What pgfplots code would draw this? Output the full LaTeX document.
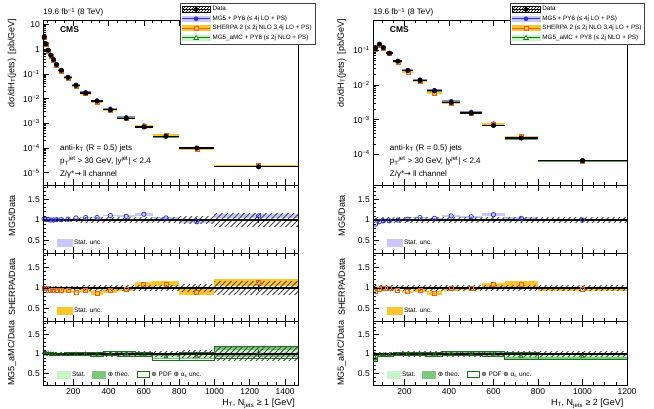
\documentclass[border=0pt]{standalone}
\usepackage{fontspec}
\setmainfont{Liberation Sans}
\newfontfamily\dejavu{DejaVu Sans}
\usepackage{pgfplots}
\pgfplotsset{compat=1.18}
\usepackage{pgfplotstable}
\usetikzlibrary{patterns}

\definecolor{mgcol}{RGB}{50,50,220}
\definecolor{mgband}{RGB}{200,200,255}
\definecolor{shcol}{RGB}{235,95,35}
\definecolor{shband}{RGB}{252,196,45}
\definecolor{amccol}{RGB}{25,115,25}
\definecolor{amcstat}{RGB}{200,245,200}
\definecolor{amctheo}{RGB}{125,200,125}
\definecolor{hatchcol}{RGB}{70,70,70}

% wide diagonal hatch for the data uncertainty
\pgfdeclarepatternformonly{hatchwide}{\pgfqpoint{-1pt}{-1pt}}{\pgfqpoint{6.5pt}{6.5pt}}{\pgfqpoint{5.5pt}{5.5pt}}{%
  \pgfsetlinewidth{0.75pt}%
  \pgfpathmoveto{\pgfqpoint{0pt}{0pt}}%
  \pgfpathlineto{\pgfqpoint{5.6pt}{5.6pt}}%
  \pgfusepath{stroke}}
\pgfdeclareplotmark{nomark}{}

% N_jets >= 1 : bin edges, centre, half width, dsigma/dHT (pb/GeV),
% MC/data ratios with their uncertainties, data stat. and total unc.
\pgfplotstableread{
lo hi c hw data mg mge sh she amc amcs amct amcp de dt
30 40 35 5 3.05 1.03 0.006 1.00 0.02 1.04 0.006 0.02 0.03 0.004 0.03
40 50 45 5 1.64 1.02 0.006 0.98 0.02 1.03 0.006 0.02 0.03 0.004 0.03
50 65 57.5 7.5 0.90 1.01 0.006 0.95 0.02 1.01 0.006 0.02 0.03 0.004 0.03
65 80 72.5 7.5 0.565 1.00 0.006 0.94 0.02 1.00 0.006 0.02 0.03 0.004 0.03
80 95 87.5 7.5 0.378 1.00 0.006 0.95 0.02 0.99 0.006 0.02 0.03 0.004 0.03
95 115 105 10 0.236 1.01 0.007 0.94 0.02 0.99 0.007 0.02 0.035 0.005 0.035
115 150 132.5 17.5 0.139 1.01 0.007 0.94 0.03 0.99 0.007 0.025 0.035 0.005 0.035
150 190 170 20 0.072 1.02 0.008 0.94 0.03 0.99 0.008 0.025 0.04 0.006 0.04
190 240 215 25 0.034 1.05 0.01 0.90 0.03 1.00 0.01 0.03 0.04 0.008 0.045
240 300 270 30 0.0168 1.06 0.012 0.94 0.04 1.00 0.012 0.03 0.045 0.01 0.05
300 370 335 35 0.0079 1.06 0.015 0.88 0.04 0.99 0.015 0.035 0.05 0.012 0.05
370 450 410 40 0.0035 1.11 0.02 0.94 0.05 1.02 0.02 0.04 0.055 0.015 0.06
450 550 500 50 0.00161 1.09 0.025 0.97 0.05 1.00 0.02 0.04 0.055 0.02 0.06
550 650 600 50 0.00071 1.14 0.03 1.08 0.06 0.99 0.025 0.05 0.06 0.025 0.065
650 800 725 75 0.0003 1.05 0.035 1.10 0.06 0.93 0.03 0.07 0.09 0.03 0.07
800 1000 900 100 0.0001 0.96 0.04 0.90 0.07 0.94 0.035 0.08 0.10 0.05 0.08
1000 1500 1250 250 0.0000174 1.10 0.05 1.13 0.09 1.04 0.05 0.13 0.16 0.08 0.16
1500 nan nan 0 0.0000174 1.10 0.05 1.13 0.09 1.04 0.05 0.13 0.16 0.08 0.16
}\Ltab

% N_jets >= 2
\pgfplotstableread{
lo hi c hw data mg mge sh she amc amcs amct amcp de dt
60 80 70 10 0.12 0.90 0.01 0.91 0.03 0.88 0.01 0.05 0.08 0.005 0.05
80 95 87.5 7.5 0.151 0.96 0.008 0.96 0.02 0.97 0.008 0.03 0.04 0.004 0.05
95 115 105 10 0.12 0.98 0.008 0.98 0.02 0.98 0.008 0.03 0.04 0.004 0.05
115 150 132.5 17.5 0.083 0.98 0.008 0.98 0.02 0.98 0.008 0.03 0.04 0.005 0.05
150 190 170 20 0.0489 1.00 0.008 0.94 0.02 0.99 0.008 0.03 0.04 0.005 0.05
190 240 215 25 0.0262 1.02 0.01 0.91 0.03 1.00 0.01 0.035 0.045 0.006 0.055
240 300 270 30 0.0135 1.06 0.01 0.94 0.03 1.00 0.01 0.035 0.05 0.008 0.06
300 370 335 35 0.0068 1.04 0.012 0.88 0.05 0.99 0.012 0.04 0.05 0.01 0.06
370 450 410 40 0.00313 1.10 0.015 0.98 0.04 1.02 0.015 0.04 0.055 0.012 0.065
450 550 500 50 0.00155 1.08 0.02 0.99 0.04 1.01 0.02 0.045 0.06 0.015 0.065
550 650 600 50 0.00068 1.13 0.03 1.08 0.05 1.00 0.02 0.05 0.06 0.02 0.07
650 800 725 75 0.000295 1.04 0.03 1.10 0.07 0.94 0.025 0.07 0.09 0.025 0.07
800 1200 1000 200 0.000066 1.00 0.03 0.97 0.05 0.94 0.025 0.07 0.08 0.04 0.07
1200 nan nan 0 0.000066 1.00 0.03 0.97 0.05 0.94 0.025 0.07 0.08 0.04 0.07
}\Rtab

\pgfplotsset{
  common/.style={
    scale only axis, axis on top, clip mode=individual,
    axis line style={line width=0.7pt},
    every tick/.style={black, line width=0.6pt},
    major tick length=6pt, minor tick length=3pt,
    tick align=inside, xtick pos=both, ytick pos=left,
    tick label style={font=\fontsize{8.5}{10}\selectfont},
    /pgf/number format/assume math mode=true,
    /pgf/number format/1000 sep={},
    every axis y label/.style={at={(axis description cs:-0.123,0.5)}, rotate=90, anchor=center, font=\fontsize{9}{10}\selectfont},
    every axis x label/.style={at={(axis description cs:1,-0.17)}, anchor=north east, font=\fontsize{9}{10}\selectfont},
  },
  colL/.style={common, width=255pt, xmin=30, xmax=1475, xtick={200,400,...,1400}, minor xtick={50,100,...,1450}},
  colR/.style={common, width=253.7pt, xmin=60, xmax=1200, xtick={200,400,...,1200}, minor xtick={100,150,...,1200}},
  ratio/.style={ymin=0.2, ymax=1.85, ytick={0.5,1,1.5}, yticklabels={0.5,1,1.5},
    minor ytick={0.2,0.3,0.4,0.6,0.7,0.8,0.9,1.1,1.2,1.3,1.4,1.6,1.7,1.8},
    legend style={at={(0.04,0.04)}, anchor=south west, draw=none, fill=none,
      font=\fontsize{6.5}{7}\selectfont, legend columns=-1,
      /tikz/every even column/.append style={column sep=5pt}}},
  mainleg/.style={legend style={at={(#1,1.103)}, anchor=north east,
      draw=black!75, line width=0.6pt, fill=white, font=\fontsize{6.3}{7}\selectfont,
      inner sep=1.2pt, row sep=-0.6pt}, legend cell align=left},
}

\newcommand\legendentries{%
  \addlegendimage{legend image code/.code={
    \fill[pattern=north east lines, pattern color=black] (0pt,-3pt) rectangle (28pt,3pt);
    \draw[black, line width=0.8pt] (0pt,0pt) -- (28pt,0pt);
    \fill[black] (14pt,0pt) circle (2pt);}}
  \addlegendentry{Data}
  \addlegendimage{legend image code/.code={
    \fill[mgband] (0pt,-2.5pt) rectangle (28pt,2.5pt);
    \draw[mgcol, line width=0.8pt] (0pt,0pt) -- (28pt,0pt);
    \fill[mgcol] (14pt,0pt) circle (2pt);}}
  \addlegendentry{MG5 + PY6 (≤ 4j LO + PS)}
  \addlegendimage{legend image code/.code={
    \fill[shband] (0pt,-2.5pt) rectangle (28pt,2.5pt);
    \draw[shcol, line width=0.8pt] (0pt,0pt) -- (28pt,0pt);
    \draw[shcol, fill=shband, line width=0.6pt] (12pt,-2pt) rectangle (16pt,2pt);}}
  \addlegendentry{SHERPA 2 (≤ 2j NLO 3,4j LO + PS)}
  \addlegendimage{legend image code/.code={
    \fill[amcstat] (0pt,-2.5pt) rectangle (28pt,2.5pt);
    \draw[amccol, line width=0.8pt] (0pt,0pt) -- (28pt,0pt);
    \draw[amccol, fill=amcstat, line width=0.6pt] (11.6pt,-1.8pt) -- (16.4pt,-1.8pt) -- (14pt,2.4pt) -- cycle;}}
  \addlegendentry{MG5\_aMC + PY8 (≤ 2j NLO + PS)}
}

% spectrum: MC predictions (data x ratio) under the measured points
\newcommand\spectrum[1]{%
  \addplot[mgcol, only marks, mark=*, mark size=2pt, forget plot,
    error bars/.cd, x dir=both, x explicit, error mark=none, error bar style={mgcol!60, line width=1.9pt}]
    table[x=c, y expr=\thisrow{data}*\thisrow{mg}, x error=hw]{#1};
  \addplot[shcol, only marks, mark=square*, mark size=2pt, mark options={fill=shband}, forget plot,
    error bars/.cd, x dir=both, x explicit, error mark=none, error bar style={shband, line width=1.9pt}]
    table[x=c, y expr=\thisrow{data}*\thisrow{sh}, x error=hw]{#1};
  \addplot[amccol, only marks, mark=triangle*, mark size=2pt, mark options={fill=amctheo}, forget plot,
    error bars/.cd, x dir=both, x explicit, error mark=none, error bar style={amccol!70, line width=1.4pt}]
    table[x=c, y expr=\thisrow{data}*\thisrow{amc}, x error=hw]{#1};
  \addplot[black, only marks, mark=*, mark size=2.3pt, forget plot,
    error bars/.cd, x dir=both, x explicit, error mark=none, error bar style={black, line width=1.3pt}]
    table[x=c, y=data, x error=hw]{#1};
}

% one box per bin: table, centre expression, half-height column, path style
\newcommand\boxes[4]{%
  \addplot[only marks, mark=nomark, forget plot, scatter, clip marker paths=true,
    point meta min=0, point meta max=10,
    visualization depends on={\thisrow{hw}\as\bhw},
    visualization depends on={\thisrow{#3}\as\bhh},
    scatter/@pre marker code/.code={\path[draw=none, #4] (axis direction cs:-\bhw,-\bhh) rectangle (axis direction cs:\bhw,\bhh);},
    scatter/@post marker code/.code={}]
    table[x=c, y expr=#2]{#1};
}

% unity line and data points in the ratio panels
\newcommand\dataratio[1]{%
  \addplot[black, line width=1.1pt, forget plot] table[x=lo, y expr=1]{#1};
  \addplot[black, only marks, mark=*, mark size=1.1pt, forget plot,
    error bars/.cd, y dir=both, y explicit, error mark=none, error bar style={black, line width=0.8pt}]
    table[x=c, y expr=1, y error=de]{#1};
}

\newcommand\ptjet{p\textsubscript{T}\textsuperscript{jet}}
\newcommand\yjet{y\textsuperscript{jet}}

\newcommand\ratiolegendone[1]{%
  \addlegendimage{legend image code/.code={\fill[#1] (0pt,-3pt) rectangle (15pt,4pt);}}
  \addlegendentry{Stat. unc.}
}
\newcommand\ratiolegendamc{%
  \addlegendimage{legend image code/.code={\fill[amcstat] (0pt,-3pt) rectangle (13pt,4pt);}}
  \addlegendentry{Stat.}
  \addlegendimage{legend image code/.code={\fill[amctheo] (0pt,-3pt) rectangle (13pt,4pt);}}
  \addlegendentry{{\dejavu ⊕} theo.}
  \addlegendimage{legend image code/.code={\draw[amccol, line width=0.9pt] (0.5pt,-2.5pt) rectangle (12.5pt,3.5pt);}}
  \addlegendentry{{\dejavu ⊕} PDF {\dejavu ⊕} α\textsubscript{s} unc.}
}

\newcommand\maintexts{%
  \node[anchor=south west, inner sep=0pt, font=\fontsize{8}{9}\selectfont] at (axis description cs:0,1.02) {19.6 fb\textsuperscript{−1} (8 TeV)};
  \node[anchor=west, inner sep=0pt, font=\bfseries\fontsize{8.5}{10}\selectfont] at (axis description cs:0.065,0.945) {CMS};
  \node[anchor=west, inner sep=0pt, font=\fontsize{8}{9}\selectfont] at (axis description cs:0.065,0.222) {anti-k\textsubscript{T} (R = 0.5) jets};
  \node[anchor=west, inner sep=0pt, font=\fontsize{8}{9}\selectfont] at (axis description cs:0.065,0.145) {\ptjet{} > 30 GeV, |\yjet| < 2.4};
  \node[anchor=west, inner sep=0pt, font=\fontsize{8}{9}\selectfont] at (axis description cs:0.065,0.066) {Z/γ*{\dejavu →} ll channel};
}

\begin{document}
\begin{tikzpicture}
\useasboundingbox (0pt,0pt) rectangle (654pt,-408pt);

% ================= N_jets >= 1 =================
\begin{axis}[colL, at={(43.3pt,-20pt)}, anchor=north west, height=165pt,
  ymode=log, ymin=3.2e-6, ymax=15,
  ytick={1e-5,1e-4,1e-3,1e-2,1e-1,1,10},
  yticklabels={10\textsuperscript{−5},10\textsuperscript{−4},10\textsuperscript{−3},10\textsuperscript{−2},10\textsuperscript{−1},1,10},
  xticklabels={},
  ylabel={dσ/dH\textsubscript{T}(jets)\enspace[pb/GeV]},
  every axis y label/.style={at={(axis description cs:-0.123,1.03)}, rotate=90, anchor=east, font=\fontsize{9}{10}\selectfont},
  mainleg=1.066]
  \legendentries
  \spectrum{\Ltab}
  \maintexts
\end{axis}

\begin{axis}[colL, ratio, at={(43.3pt,-185pt)}, anchor=north west, height=68pt, xticklabels={},
  ylabel={MG5/Data}, every axis y label/.append style={at={(axis description cs:-0.123,0.55)}}]
  \ratiolegendone{mgband}
  \boxes{\Ltab}{\thisrow{mg}}{mge}{fill=mgband}
  \boxes{\Ltab}{1}{dt}{pattern=hatchwide, pattern color=hatchcol}
  \dataratio{\Ltab}
  \addplot[mgcol, only marks, mark=o, mark size=2.2pt, mark options={line width=0.8pt}, forget plot] table[x=c, y=mg]{\Ltab};
\end{axis}

\begin{axis}[colL, ratio, at={(43.3pt,-253pt)}, anchor=north west, height=68pt, xticklabels={},
  ylabel={SHERPA/Data}]
  \ratiolegendone{shband}
  \boxes{\Ltab}{\thisrow{sh}}{she}{fill=shband}
  \boxes{\Ltab}{1}{dt}{pattern=hatchwide, pattern color=hatchcol}
  \dataratio{\Ltab}
  \addplot[shcol, only marks, mark=square, mark size=2pt, mark options={line width=0.8pt}, forget plot] table[x=c, y=sh]{\Ltab};
\end{axis}

\begin{axis}[colL, ratio, at={(43.3pt,-321pt)}, anchor=north west, height=64pt,
  ylabel={MG5\_aMC/Data}, xlabel={H\textsubscript{T}, N\textsubscript{jets} ≥ 1 [GeV]}]
  \ratiolegendamc
  \boxes{\Ltab}{\thisrow{amc}}{amct}{fill=amctheo}
  \boxes{\Ltab}{\thisrow{amc}}{amcs}{fill=amcstat}
  \boxes{\Ltab}{1}{dt}{pattern=hatchwide, pattern color=hatchcol}
  \boxes{\Ltab}{\thisrow{amc}}{amcp}{draw=amccol, line width=0.9pt}
  \dataratio{\Ltab}
  \addplot[amccol, only marks, mark=triangle, mark size=2pt, mark options={line width=0.7pt}, forget plot] table[x=c, y=amc]{\Ltab};
\end{axis}

% ================= N_jets >= 2 =================
\begin{axis}[colR, at={(373.3pt,-20pt)}, anchor=north west, height=165pt,
  ymode=log, ymin=1.3e-5, ymax=0.75,
  ytick={1e-4,1e-3,1e-2,1e-1},
  yticklabels={10\textsuperscript{−4},10\textsuperscript{−3},10\textsuperscript{−2},10\textsuperscript{−1}},
  xticklabels={},
  ylabel={dσ/dH\textsubscript{T}(jets)\enspace[pb/GeV]},
  every axis y label/.style={at={(axis description cs:-0.125,1.03)}, rotate=90, anchor=east, font=\fontsize{9}{10}\selectfont},
  mainleg=1.071]
  \legendentries
  \spectrum{\Rtab}
  \maintexts
\end{axis}

\begin{axis}[colR, ratio, at={(373.3pt,-185pt)}, anchor=north west, height=68pt, xticklabels={},
  ylabel={MG5/Data}, every axis y label/.append style={at={(axis description cs:-0.125,0.55)}}]
  \ratiolegendone{mgband}
  \boxes{\Rtab}{\thisrow{mg}}{mge}{fill=mgband}
  \boxes{\Rtab}{1}{dt}{pattern=hatchwide, pattern color=hatchcol}
  \dataratio{\Rtab}
  \addplot[mgcol, only marks, mark=o, mark size=2.2pt, mark options={line width=0.8pt}, forget plot] table[x=c, y=mg]{\Rtab};
\end{axis}

\begin{axis}[colR, ratio, at={(373.3pt,-253pt)}, anchor=north west, height=68pt, xticklabels={},
  ylabel={SHERPA/Data}, every axis y label/.append style={at={(axis description cs:-0.125,0.5)}}]
  \ratiolegendone{shband}
  \boxes{\Rtab}{\thisrow{sh}}{she}{fill=shband}
  \boxes{\Rtab}{1}{dt}{pattern=hatchwide, pattern color=hatchcol}
  \dataratio{\Rtab}
  \addplot[shcol, only marks, mark=square, mark size=2pt, mark options={line width=0.8pt}, forget plot] table[x=c, y=sh]{\Rtab};
\end{axis}

\begin{axis}[colR, ratio, at={(373.3pt,-321pt)}, anchor=north west, height=64pt,
  ylabel={MG5\_aMC/Data}, every axis y label/.append style={at={(axis description cs:-0.125,0.5)}},
  xlabel={H\textsubscript{T}, N\textsubscript{jets} ≥ 2 [GeV]}]
  \ratiolegendamc
  \boxes{\Rtab}{\thisrow{amc}}{amct}{fill=amctheo}
  \boxes{\Rtab}{\thisrow{amc}}{amcs}{fill=amcstat}
  \boxes{\Rtab}{1}{dt}{pattern=hatchwide, pattern color=hatchcol}
  \boxes{\Rtab}{\thisrow{amc}}{amcp}{draw=amccol, line width=0.9pt}
  \dataratio{\Rtab}
  \addplot[amccol, only marks, mark=triangle, mark size=2pt, mark options={line width=0.7pt}, forget plot] table[x=c, y=amc]{\Rtab};
\end{axis}
\end{tikzpicture}
\end{document}
